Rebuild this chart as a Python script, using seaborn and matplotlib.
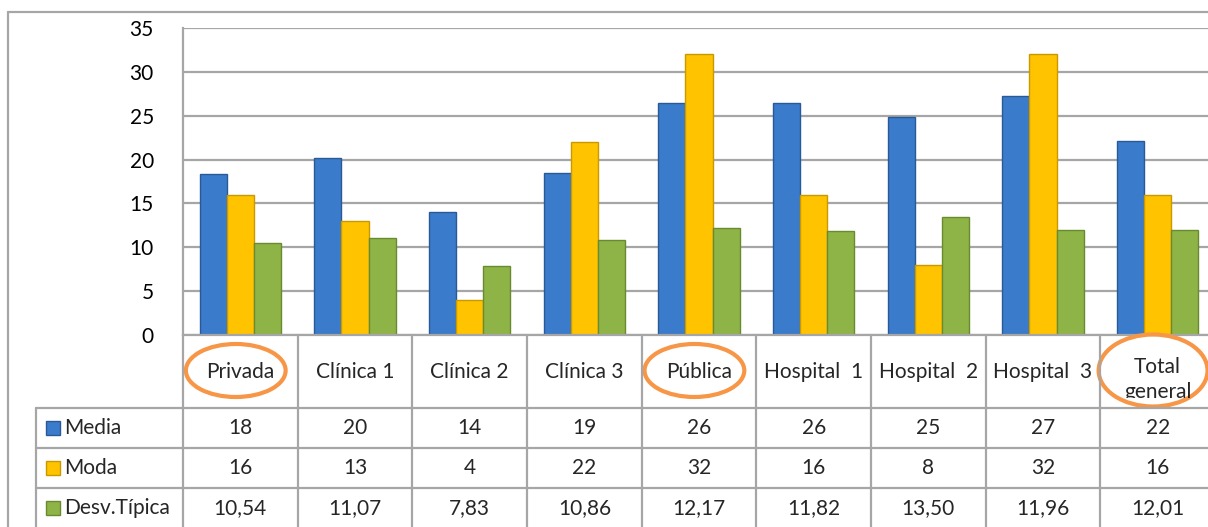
import numpy as np
import pandas as pd
import matplotlib.pyplot as plt
import seaborn as sns
from matplotlib.lines import Line2D
from matplotlib.patches import Ellipse, Rectangle

# ----- data -----
categorias = ['Privada', 'Clínica 1', 'Clínica 2', 'Clínica 3', 'Pública',
              'Hospital  1', 'Hospital  2', 'Hospital  3', 'Total\ngeneral']
series = ['Media', 'Moda', 'Desv.Típica']
media = [18.4, 20.2, 14.0, 18.5, 26.5, 26.5, 24.9, 27.3, 22.1]
moda = [16, 13, 4, 22, 32, 16, 8, 32, 16]
desv = [10.54, 11.07, 7.83, 10.86, 12.17, 11.82, 13.50, 11.96, 12.01]
tabla_media = ['18', '20', '14', '19', '26', '26', '25', '27', '22']
tabla_moda = ['16', '13', '4', '22', '32', '16', '8', '32', '16']
tabla_desv = ['10,54', '11,07', '7,83', '10,86', '12,17', '11,82', '13,50', '11,96', '12,01']
resaltadas = ['Privada', 'Pública', 'Total\ngeneral']
yticks = [0, 5, 10, 15, 20, 25, 30, 35]

colores = ['#3B7BCB', '#FFC300', '#8EB448']
bordes = ['#2A5A96', '#C99A00', '#6A8A30']
gris = '#A6A6A6'

df = pd.DataFrame({
    'categoria': np.tile(categorias, 3),
    'serie': np.repeat(series, len(categorias)),
    'valor': media + moda + desv,
})

sns.set_style('white')
plt.rcParams['font.family'] = ['Lato', 'DejaVu Sans']

W, H = 1208, 527
fig = plt.figure(figsize=(W / 100, H / 100), dpi=100)

# plot area in pixels: x 183..1215, y 28..335 (from top)
x0, x1, ytop, ybot = 183, 1215, 28, 335
ax = fig.add_axes([x0 / W, (H - ybot) / H, (x1 - x0) / W, (ybot - ytop) / H])
sns.barplot(data=df, x='categoria', y='valor', hue='serie', palette=colores,
            width=0.71, gap=0, saturation=1, legend=False, ax=ax)
for i, cont in enumerate(ax.containers):
    for bar in cont:
        bar.set_edgecolor(bordes[i])
        bar.set_linewidth(1)

ax.set_xlim(-0.5, len(categorias) - 0.5)
ax.set_ylim(0, 35)
ax.set_yticks(yticks)
ax.set_xticks([])
ax.set_xlabel('')
ax.set_ylabel('')
ax.yaxis.grid(True, color=gris, lw=1.6)
ax.set_axisbelow(True)
ax.tick_params(axis='y', length=0, pad=21, labelsize=15, colors='black')
for s in ['top', 'right']:
    ax.spines[s].set_visible(False)
for s in ['left', 'bottom']:
    ax.spines[s].set_color(gris)
    ax.spines[s].set_linewidth(1.6)

# ----- data table below -----
tab = fig.add_axes([x0 / W, 0, (x1 - x0) / W, (H - ybot) / H])
tab.set_xlim(-0.5, len(categorias) - 0.5)
tab.set_ylim(H - ybot, 0)  # pixels below the x axis
tab.axis('off')
cell = (x1 - x0) / len(categorias)
xleg = -0.5 - (x0 - 36) / cell
hdr, row = 73, 40
fs = 15
kw = dict(color=gris, lw=1.6, clip_on=False)

for i in range(len(categorias) + 1):
    tab.plot([i - 0.5, i - 0.5], [0, H - ybot], **kw)
for k in range(3):
    tab.plot([xleg, len(categorias) - 0.5], [hdr + k * row] * 2, **kw)
tab.plot([xleg, xleg], [hdr, H - ybot], **kw)

for i, c in enumerate(categorias):
    doble = '\n' in c
    t = tab.text(i, hdr / 2 + (8 if doble else 0), c, ha='center', va='center',
                 fontsize=fs, linespacing=1.35)
    if doble:
        t.set_clip_path(Rectangle((i - 0.5, 0), 1, hdr - 10, transform=tab.transData))
        t.set_clip_on(True)
    if c in resaltadas:
        w = 0.95 if doble else 0.87
        h = 72 if doble else 53
        tab.add_patch(Ellipse((i - 0.04, hdr / 2 - (1 if doble else 1)), w, h,
                              fill=False, ec='#F79646', lw=3, clip_on=False))

filas = [tabla_media, tabla_moda, tabla_desv]
for k, (nombre, vals) in enumerate(zip(series, filas)):
    yc = hdr + k * row + row / 2
    for i, v in enumerate(vals):
        tab.text(i, yc, v, ha='center', va='center', fontsize=fs)
    tab.add_patch(Rectangle((xleg + 10 / cell, yc - 7), 14 / cell, 14, fc=colores[k],
                            ec=bordes[k], lw=1, clip_on=False))
    tab.text(xleg + 28 / cell, yc, nombre, ha='left', va='center', fontsize=fs,
             clip_on=False)

# outer chart border
fig.add_artist(Line2D([8 / W, 8 / W], [0, 1 - 12 / H], color=gris, lw=1.6))
fig.add_artist(Line2D([8 / W, 1], [1 - 12 / H, 1 - 12 / H], color=gris, lw=1.6))

fig.savefig('out.png', dpi=100)
